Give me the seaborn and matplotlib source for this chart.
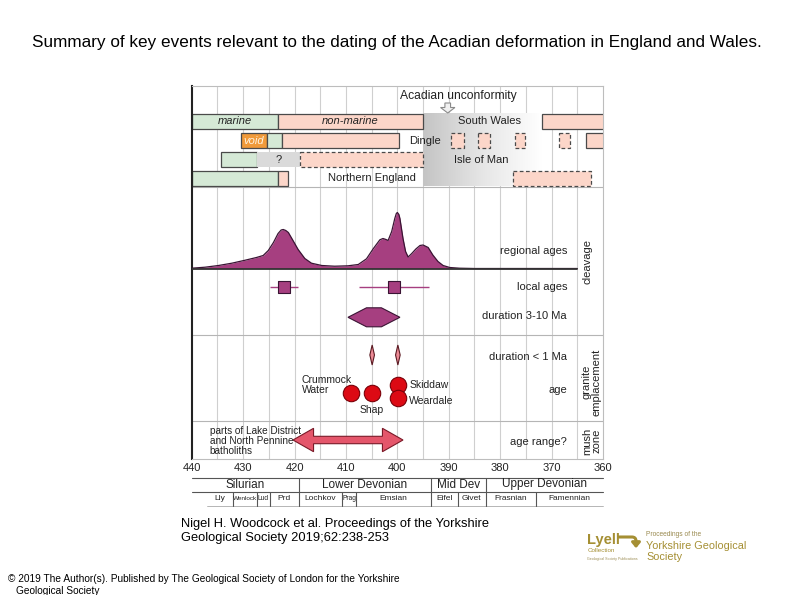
import numpy as np
import pandas as pd
import matplotlib
matplotlib.use("Agg")
import matplotlib.pyplot as plt
import matplotlib.patches as mpatches
from matplotlib.colors import LinearSegmentedColormap
import seaborn as sns

# ------------------------------------------------------------------ data
tick_ages = [440, 430, 420, 410, 400, 390, 380, 370, 360]

# stratigraphic bars per locality (start Ma, end Ma, facies)
sw_start = [440.0, 423.2, 371.9]
sw_end = [423.2, 395.0, 359.0]
sw_kind = ["marine", "nonmarine", "nonmarine"]

dingle_start = [430.4, 425.3, 422.4, 389.5, 384.3, 377.2, 368.6, 363.3]
dingle_end = [425.3, 422.4, 399.7, 387.0, 382.0, 375.1, 366.4, 359.0]
dingle_kind = ["void", "marine", "nonmarine", "nonmarine?", "nonmarine?",
               "nonmarine?", "nonmarine?", "nonmarine"]

iom_start = [434.3, 427.3, 419.0]
iom_end = [427.3, 419.0, 395.0]
iom_kind = ["marine", "unknown", "nonmarine?"]

ne_start = [440.0, 423.2, 377.5]
ne_end = [423.2, 421.2, 362.3]
ne_kind = ["marine", "nonmarine", "nonmarine?"]

unconformity_start, unconformity_fade = 395.0, 372.0
unconformity_arrow_age = 390.2

# regional cleavage ages (relative probability)
density_age = [440.0, 437.4, 434.8, 432.2, 429.6, 427.4, 426.1, 425.1, 424.1,
               423.2, 422.6, 422.2, 421.7, 421.2, 420.3, 419.3, 418.0, 416.7,
               414.7, 412.2, 409.6, 407.6, 406.0, 404.7, 403.4, 402.8, 402.2,
               401.8, 401.1, 400.5, 400.2, 400.0, 399.7, 399.5, 398.9, 398.4,
               397.9, 397.2, 396.4, 395.6, 395.0, 394.0, 393.1, 392.1, 391.1,
               389.8, 387.9, 385.0, 365.0]
density_val = [0.3, 1.3, 3.0, 5.3, 8.3, 11.0, 13.0, 18.0, 26.0,
               35.0, 38.5, 39.0, 38.0, 36.0, 28.0, 19.0, 10.0, 5.3,
               3.0, 2.3, 2.7, 4.0, 9.7, 19.7, 28.7, 30.0, 29.0,
               28.0, 37.0, 50.0, 55.0, 56.0, 54.0, 50.0, 30.0, 17.0,
               11.5, 15.0, 19.5, 23.0, 23.5, 21.0, 13.5, 7.0, 3.0,
               1.0, 0.3, 0.0, 0.0]

# local cleavage ages with ranges
local_age = [422.1, 400.7]
local_min = [424.8, 407.5]
local_max = [419.3, 393.8]

# cleavage duration 3-10 Ma (start, plateau start, plateau end, end)
dur_start, dur_p1, dur_p2, dur_end = 409.6, 406.0, 403.1, 399.5

# granite durations < 1 Ma
short_dur_age = [404.9, 399.9]

# granite ages
granite_name = ["Crummock Water", "Shap", "Skiddaw", "Weardale"]
granite_age = [409.1, 405.0, 399.9, 399.9]

# mush zone age range
mush_start, mush_end = 420.3, 398.9

# geological timescale
periods = ["Silurian", "Lower Devonian", "Mid Dev", "Upper Devonian"]
period_bounds = [440.0, 419.2, 393.5, 382.8, 360.0]
stages = ["Lly", "Wenlock", "Lud", "Prd", "Lochkov", "Prag", "Emsian",
          "Eifel", "Givet", "Frasnian", "Famennian"]
stage_bounds = [437.0, 432.0, 427.3, 424.8, 419.2, 410.7, 408.0, 393.5,
                388.3, 382.8, 373.0, 360.0]
stage_size = [6.0, 4.6, 4.8, 6.0, 6.0, 4.8, 6.0, 6.0, 6.0, 6.0, 6.0]

# ------------------------------------------------------------------ style
sns.set_theme(style="white")
plt.rcParams["font.family"] = ["Liberation Sans", "DejaVu Sans"]

W, H = 794, 595
fig = plt.figure(figsize=(W / 100, H / 100), dpi=100)
fig.patch.set_facecolor("white")
ax = fig.add_axes([191.7 / W, 1 - 459 / H, (603 - 191.7) / W, (459 - 86) / H])
ax.set_facecolor("white")

GRID = "#cfcfcf"
EDGE = "#4a4a4a"
PURPLE = "#a63f80"
TXT = "#222222"

# layout (vertical positions in axis units == pixels)
row_y = {"sw": 121.3, "dingle": 140.7, "iom": 159.7, "ne": 178.4}
BAR_H = 14.5
BASE = 268.5
LOCAL_Y = 286.7
DUR_Y = 317.3
SHORT_Y = 355.0
GRANITE_Y = {"Crummock Water": 393.3, "Shap": 393.3, "Skiddaw": 385.0, "Weardale": 398.3}
MUSH_Y = 440.0

# grid
for a in np.arange(435, 360, -5):
    ax.axvline(a, color=GRID, lw=0.8, zorder=0)
for yy in [187.0, 335.0, 421.0]:
    ax.axhline(yy, color="#b5b5b5", lw=0.8, zorder=0.5)

# unconformity gradient
grad = np.linspace(0, 1, 256).reshape(1, -1)
cmap = LinearSegmentedColormap.from_list("unc", ["#c4c4c4", "#e6e6e6", "#ffffff"])
ax.imshow(grad, cmap=cmap, extent=(unconformity_start, unconformity_fade, 186.5, 113.5),
          aspect="auto", zorder=1, interpolation="bicubic")

facies = {
    "marine": dict(fc="#d5e9d6", ec=EDGE, ls="-"),
    "nonmarine": dict(fc="#fcd6c9", ec=EDGE, ls="-"),
    "void": dict(fc="#f09a3a", ec=EDGE, ls="-"),
    "unknown": dict(fc="#dadada", ec="none", ls="-"),
    "nonmarine?": dict(fc="#fcd6c9", ec=EDGE, ls=(0, (3, 2))),
}

rows = [("sw", sw_start, sw_end, sw_kind), ("dingle", dingle_start, dingle_end, dingle_kind),
        ("iom", iom_start, iom_end, iom_kind), ("ne", ne_start, ne_end, ne_kind)]
for key, st, en, kd in rows:
    for s, e, k in zip(st, en, kd):
        f = facies[k]
        ax.barh(row_y[key], e - s, left=s, height=BAR_H, color=f["fc"],
                edgecolor=f["ec"], linestyle=f["ls"], linewidth=0.9, zorder=2)

fs = 8
ax.text((sw_start[0] + sw_end[0]) / 2, row_y["sw"], "marine", style="italic", ha="center",
        va="center", fontsize=fs, color=TXT, zorder=5)
ax.text((sw_start[1] + sw_end[1]) / 2, row_y["sw"], "non-marine", style="italic", ha="center",
        va="center", fontsize=fs, color=TXT, zorder=5)
ax.text((dingle_start[0] + dingle_end[0]) / 2, row_y["dingle"], "void", style="italic",
        ha="center", va="center", fontsize=fs, color="#fff3e0", zorder=5)
ax.text((iom_start[1] + iom_end[1]) / 2, row_y["iom"], "?", ha="center", va="center",
        fontsize=fs, color=TXT, zorder=5)
ax.text(382.0, row_y["sw"], "South Wales", ha="center", va="center", fontsize=fs, color=TXT, zorder=5)
ax.text(394.7, row_y["dingle"], "Dingle", ha="center", va="center", fontsize=fs, color=TXT, zorder=5)
ax.text(383.7, row_y["iom"], "Isle of Man", ha="center", va="center", fontsize=fs, color=TXT, zorder=5)
ax.text(405.0, row_y["ne"], "Northern England", ha="center", va="center", fontsize=fs, color=TXT, zorder=5)

ax.text(388.1, 95.5, "Acadian unconformity", ha="center", va="center", fontsize=8.7, color=TXT, zorder=5)
ax.add_patch(mpatches.FancyArrow(unconformity_arrow_age, 103.0, 0, 10.0, width=1.1,
                                 head_width=2.8, head_length=5.5, length_includes_head=True,
                                 fc="#f0f0f0", ec="#8a8a8a", lw=0.8, zorder=5))

# regional ages density
dens = pd.DataFrame({"age": density_age, "val": density_val})
dens["y"] = BASE - dens["val"]
ax.fill_between(dens["age"], BASE, dens["y"], color=PURPLE, lw=0, zorder=3)
sns.lineplot(data=dens, x="age", y="y", ax=ax, color="#3a1434", lw=0.9, zorder=4,
             sort=False, estimator=None)
ax.plot([440, 365], [BASE, BASE], color="#333333", lw=1.3, zorder=4)

# local ages
loc = pd.DataFrame({"age": local_age, "lo": local_min, "hi": local_max})
loc["y"] = LOCAL_Y
ax.hlines(loc["y"], loc["lo"], loc["hi"], color=PURPLE, lw=1.0, zorder=3)
sns.scatterplot(data=loc, x="age", y="y", ax=ax, marker="s", s=72, color=PURPLE,
                edgecolor="#3a1434", linewidth=0.8, zorder=4, legend=False)

# duration 3-10 Ma hexagon
hh = 9.5
hexagon = [(dur_start, DUR_Y), (dur_p1, DUR_Y - hh), (dur_p2, DUR_Y - hh), (dur_end, DUR_Y),
           (dur_p2, DUR_Y + hh), (dur_p1, DUR_Y + hh)]
ax.add_patch(mpatches.Polygon(hexagon, closed=True, fc=PURPLE, ec="#3a1434", lw=0.8, zorder=3))

# duration < 1 Ma diamonds
for a in short_dur_age:
    dia = [(a, SHORT_Y - 10), (a - 0.45, SHORT_Y), (a, SHORT_Y + 10), (a + 0.45, SHORT_Y)]
    ax.add_patch(mpatches.Polygon(dia, closed=True, fc="#ec8a95", ec="#5a1a22", lw=0.8, zorder=3))

# granite ages
gr = pd.DataFrame({"name": granite_name, "age": granite_age})
gr["y"] = gr["name"].map(GRANITE_Y)
sns.scatterplot(data=gr, x="age", y="y", ax=ax, marker="o", s=140, color="#dc0a14",
                edgecolor="#7a0008", linewidth=0.8, zorder=4, legend=False)
ax.text(418.6, 385.0, "Crummock\nWater", ha="left", va="center", fontsize=7.5,
        color=TXT, linespacing=0.95, zorder=5)
ax.text(405.0, 410.0, "Shap", ha="center", va="center", fontsize=7.5, color=TXT, zorder=5)
ax.text(397.7, 385.0, "Skiddaw", ha="left", va="center", fontsize=7.5, color=TXT, zorder=5)
ax.text(397.7, 400.5, "Weardale", ha="left", va="center", fontsize=7.5, color=TXT, zorder=5)

# mush zone arrow
sh, hw, hl = 3.7, 11.7, 4.0
arrow = [(mush_start, MUSH_Y), (mush_start - hl, MUSH_Y - hw), (mush_start - hl, MUSH_Y - sh),
         (mush_end + hl, MUSH_Y - sh), (mush_end + hl, MUSH_Y - hw), (mush_end, MUSH_Y),
         (mush_end + hl, MUSH_Y + hw), (mush_end + hl, MUSH_Y + sh), (mush_start - hl, MUSH_Y + sh),
         (mush_start - hl, MUSH_Y + hw)]
ax.add_patch(mpatches.Polygon(arrow, closed=True, fc="#e4566b", ec="#7a1a28", lw=0.8, zorder=3))
ax.text(436.5, 441.0, "parts of Lake District\nand North Pennine\nbatholiths", ha="left",
        va="center", fontsize=7.2, color=TXT, linespacing=0.95, zorder=5)

# right-hand labels
RX = 367.0
for yy, t in [(250.7, "regional ages"), (286.7, "local ages"), (315.7, "duration 3-10 Ma"),
              (356.7, "duration < 1 Ma"), (390.0, "age"), (441.7, "age range?")]:
    ax.text(RX, yy, t, ha="right", va="center", fontsize=8, color=TXT, zorder=5)
ax.text(363.1, 262.0, "cleavage", rotation=90, ha="center", va="center", fontsize=8, color=TXT)
ax.text(362.2, 382.0, "granite\nemplacement", rotation=90, ha="center", va="center",
        fontsize=8, color=TXT, linespacing=0.95)
ax.text(362.2, 441.0, "mush\nzone", rotation=90, ha="center", va="center",
        fontsize=8, color=TXT, linespacing=0.95)

# axes frame / ticks
ax.set_xlim(440, 360)
ax.set_ylim(459, 86)
ax.set_xticks(tick_ages)
ax.set_xticklabels([str(t) for t in tick_ages], fontsize=8, color=TXT)
ax.set_yticks([])
ax.tick_params(axis="x", length=0, pad=3)
ax.set_xlabel("")
ax.set_ylabel("")
for side in ["top", "right", "bottom"]:
    ax.spines[side].set_color("#bdbdbd")
    ax.spines[side].set_linewidth(0.8)
ax.spines["left"].set_color("#222222")
ax.spines["left"].set_linewidth(1.5)

# timescale table below the axis
T1, T2, T3 = 477.5, 491.5, 505.5
LC = "#555555"
ax.plot([period_bounds[0], period_bounds[-1]], [T1, T1], color=LC, lw=0.8, clip_on=False)
ax.plot([period_bounds[0], period_bounds[-1]], [T2, T2], color=LC, lw=0.8, clip_on=False)
ax.plot([stage_bounds[0], stage_bounds[-1]], [T3, T3], color="#aaaaaa", lw=0.6, clip_on=False)
for b in period_bounds[1:-1]:
    ax.plot([b, b], [T1, T2], color=LC, lw=0.8, clip_on=False)
for b in stage_bounds[1:-1]:
    ax.plot([b, b], [T2, T3], color=LC, lw=0.8, clip_on=False)
for i, p in enumerate(periods):
    ax.text((period_bounds[i] + period_bounds[i + 1]) / 2, (T1 + T2) / 2, p, ha="center",
            va="center", fontsize=8.5, color=TXT, clip_on=False)
for i, s in enumerate(stages):
    ax.text((stage_bounds[i] + stage_bounds[i + 1]) / 2, (T2 + T3) / 2 + 0.5, s, ha="center",
            va="center", fontsize=stage_size[i], color=TXT, clip_on=False)

# title and captions
fig.text(397 / W, 1 - 42 / H,
         "Summary of key events relevant to the dating of the Acadian deformation in England and Wales.",
         ha="center", va="center", fontsize=12.3, color="black")
fig.text(181 / W, 1 - 524 / H, "Nigel H. Woodcock et al. Proceedings of the Yorkshire",
         ha="left", va="center", fontsize=9.3, color="black")
fig.text(181 / W, 1 - 538 / H, "Geological Society 2019;62:238-253",
         ha="left", va="center", fontsize=9.3, color="black")
fig.text(8 / W, 1 - 579 / H,
         "\u00a9 2019 The Author(s). Published by The Geological Society of London for the Yorkshire",
         ha="left", va="center", fontsize=7.25, color="black")
fig.text(16 / W, 1 - 591 / H, "Geological Society", ha="left", va="center", fontsize=7.25,
         color="black")

# publisher logo (text)
GOLD = "#a58f33"
fig.text(587 / W, 1 - 540 / H, "Lyell", ha="left", va="center", fontsize=10.5,
         fontweight="bold", color=GOLD)
fig.text(588 / W, 1 - 551 / H, "Collection", ha="left", va="center", fontsize=4.5, color=GOLD)
fig.text(587 / W, 1 - 559 / H, "Geological Society Publications", ha="left", va="center",
         fontsize=2.6, color="#9a8a50")
fig.add_artist(mpatches.FancyArrowPatch((616 / W, 1 - 537 / H), (636 / W, 1 - 551 / H),
                                        connectionstyle="angle,angleA=0,angleB=90,rad=4",
                                        arrowstyle="-|>,head_length=3,head_width=2.5",
                                        color=GOLD, lw=2.2, transform=fig.transFigure))
fig.text(646 / W, 1 - 534 / H, "Proceedings of the", ha="left", va="center", fontsize=4.8,
         color="#9a8a50")
fig.text(646 / W, 1 - 546 / H, "Yorkshire Geological", ha="left", va="center", fontsize=7.8,
         color=GOLD)
fig.text(646 / W, 1 - 557 / H, "Society", ha="left", va="center", fontsize=7.8, color=GOLD)

fig.savefig("out.png", dpi=100, facecolor="white")
